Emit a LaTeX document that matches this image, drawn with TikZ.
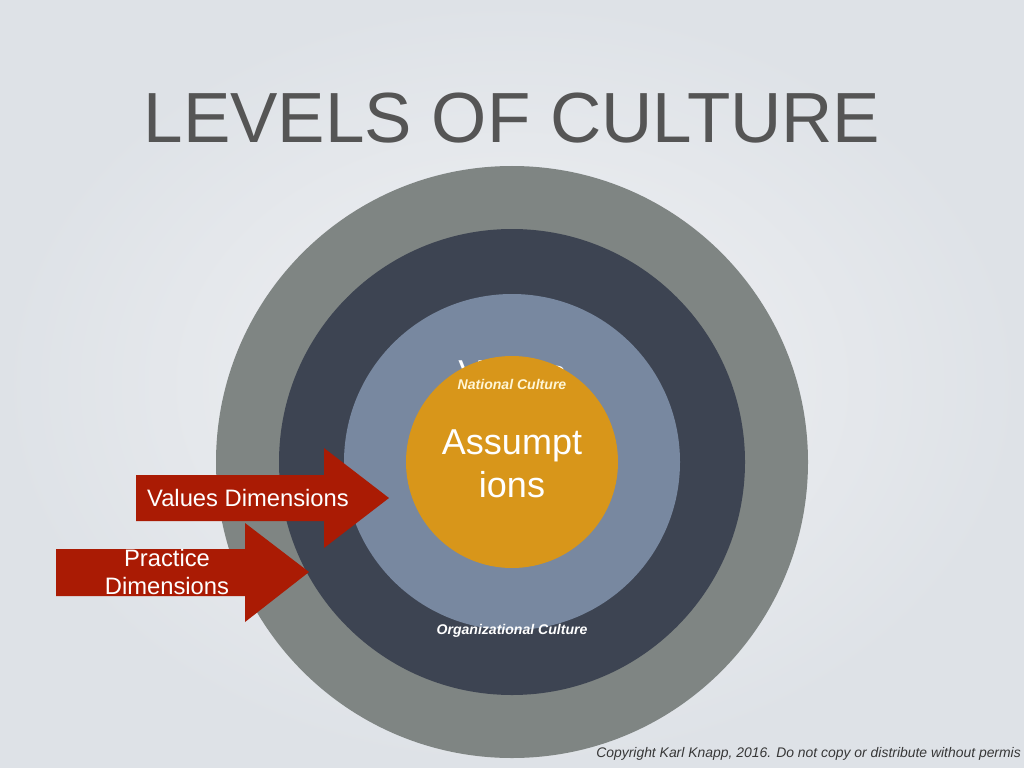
\documentclass[tikz,border=0pt]{standalone}
\usepackage{fontspec}
\setmainfont{Liberation Sans}
\usetikzlibrary{positioning}
\definecolor{bgin}{RGB}{241,242,244}
\definecolor{bgout}{RGB}{222,226,231}
\definecolor{ringgray}{RGB}{127,133,131}
\definecolor{ringdark}{RGB}{61,68,82}
\definecolor{ringblue}{RGB}{120,136,160}
\definecolor{coreorange}{RGB}{216,150,26}
\definecolor{arrowred}{RGB}{170,27,4}
\definecolor{titlegray}{RGB}{85,85,85}
\definecolor{cream}{RGB}{255,246,214}
\definecolor{notegray}{RGB}{55,55,55}

\begin{document}
\begin{tikzpicture}[x=0.025cm,y=-0.025cm]
% Styles
\tikzset{
txt/.style={inner sep=0pt, align=center},
heading/.style={txt, text=titlegray, font=\fontsize{50.5}{60}\selectfont},
big/.style={txt, text=white, font=\fontsize{25.6}{30.6}\selectfont},
dim/.style={txt, text=white, font=\fontsize{16.9}{20.6}\selectfont},
level/.style={txt, font=\fontsize{10}{12}\selectfont\bfseries\itshape},
note/.style={txt, text=notegray, font=\fontsize{9.9}{12}\selectfont\itshape}
}
% Background
\useasboundingbox (0,0) rectangle (1024,768);
\shade[inner color=bgin, outer color=bgout] (0,0) rectangle (1024,768);
% Title
\node[heading, anchor=base] (title) at (512,143) {LEVELS OF CULTURE};
% Rings
\coordinate (ctr) at (512,462);
\fill[ringgray] (ctr) circle[radius=296];
\fill[ringdark] (ctr) circle[radius=233];
\fill[ringblue] (ctr) circle[radius=168];
\node[big, anchor=base] (values) at (512,385) {Values};
\fill[coreorange] (ctr) circle[radius=106];
% Labels of the rings
\node[big] (core) at (512,464) {Assumpt\\ions};
\node[level, text=cream, anchor=base] (national) at (512,389) {National Culture};
\node[level, text=white, anchor=base] (organizational) at (512,634) {Organizational Culture};
% Arrow 1
\fill[arrowred] (136,475) -- (324,475) -- (324,448) -- (389,498) -- (324,548) -- (324,521) -- (136,521) -- cycle;
\node[dim, anchor=base] (valdim) at (248,506) {Values Dimensions};
% Arrow 2
\fill[arrowred] (56,549) -- (245,549) -- (245,523) -- (309,572) -- (245,622) -- (245,596) -- (56,596) -- cycle;
\node[dim] (pracdim) at (167,572) {Practice\\Dimensions};
% Copyright
\node[note, anchor=base west] (copy) at (596,757) {Copyright Karl Knapp, 2016. Do not copy or distribute without permis};
\end{tikzpicture}
\end{document}
